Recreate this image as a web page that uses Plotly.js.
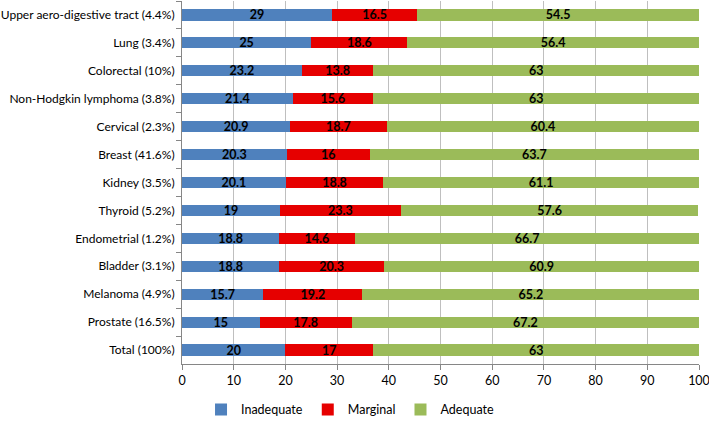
<!DOCTYPE html>
<html><head><meta charset="utf-8">
<script src="https://cdn.plot.ly/plotly-3.0.1.min.js"></script>
<style>html,body{margin:0;padding:0;background:#fff}#c{width:709px;height:426px}</style>
</head><body><div id="c"></div>
<script>
const categories = ["Upper aero-digestive tract (4.4%)","Lung (3.4%)","Colorectal (10%)","Non-Hodgkin lymphoma (3.8%)","Cervical (2.3%)","Breast (41.6%)","Kidney (3.5%)","Thyroid (5.2%)","Endometrial (1.2%)","Bladder (3.1%)","Melanoma (4.9%)","Prostate (16.5%)","Total (100%)"];
const inadequate = [29,25,23.2,21.4,20.9,20.3,20.1,19,18.8,18.8,15.7,15,20];
const marginal = [16.5,18.6,13.8,15.6,18.7,16,18.8,23.3,14.6,20.3,19.2,17.8,17];
const adequate = [54.5,56.4,63,63,60.4,63.7,61.1,57.6,66.7,60.9,65.2,67.2,63];
const seriesNames = ["Inadequate","Marginal","Adequate"];
const colors = ["#4F81BD","#E60000","#9BBB59"];
const font = "Lato, 'Open Sans', sans-serif";
const mk = (vals, i) => ({
  type:"bar", orientation:"h", name:seriesNames[i], x:vals, y:categories,
  marker:{color:colors[i], line:{width:0}},
  text:vals.map(String), textposition:"inside", insidetextanchor:"middle", textangle:0,
  textfont:{family:font, size:12.5, color:"#000", weight:"bold"},
  constraintext:"none", hoverinfo:"x+name"
});
const data = [mk(inadequate,0), mk(marginal,1), mk(adequate,2)];
const layout = {
  width:709, height:426, barmode:"stack", bargap:0.6,
  margin:{l:182, r:10, t:1, b:48},
  paper_bgcolor:"#fff", plot_bgcolor:"#fff",
  font:{family:font, size:12, color:"#000"},
  showlegend:true,
  legend:{orientation:"h", x:0.325, xanchor:"center", y:-0.085, yanchor:"top", font:{size:12.5}, traceorder:"normal", itemwidth:30},
  xaxis:{range:[0,100], tickvals:[0,10,20,30,40,50,60,70,80,90,100], showgrid:true, gridcolor:"#BFBFBF", gridwidth:1,
    showline:true, linecolor:"#868686", ticks:"outside", ticklen:5, tickcolor:"#868686",
    zeroline:false, tickfont:{size:12.5}, ticklabeloverflow:"allow", fixedrange:true},
  yaxis:{autorange:"reversed", type:"category", showline:true, linecolor:"#868686",
    ticks:"outside", tickson:"boundaries", ticklen:5, tickcolor:"#868686",
    showgrid:false, tickfont:{size:12}, ticklabelstandoff:4}
};
Plotly.newPlot("c", data, layout, {displayModeBar:false, staticPlot:true});
</script></body></html>
